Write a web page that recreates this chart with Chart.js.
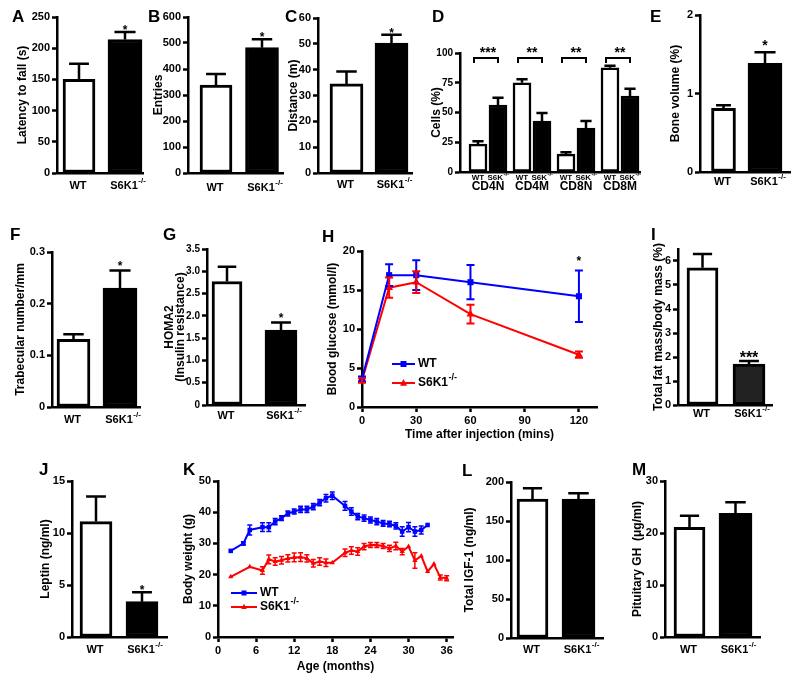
<!DOCTYPE html>
<html>
<head>
<meta charset="utf-8">
<script src="https://cdn.jsdelivr.net/npm/chart.js@4.4.1/dist/chart.umd.min.js"></script>
<style>
html, body { margin: 0; padding: 0; background: #fff; }
#fig { position: relative; width: 800px; height: 681px; overflow: hidden; }
#fig canvas { position: absolute; }
.lt { position: absolute; font: bold 17px/17px "Liberation Sans", Arial, sans-serif; color: #000; }
</style>
</head>
<body>
<div id="fig"></div>
<script>
const FONT = '"Liberation Sans", Arial, sans-serif';
const BLUE = '#0000ff';
const RED = '#ff0000';

// ---- data ----
const genotypes = ['WT', 'S6K1'];          // knockout gets a -/- superscript

const latencyMean = [150, 214], latencyErr = [25, 12], latencySig = ['', '*'];
const entriesMean = [338, 482], entriesErr = [43, 32], entriesSig = ['', '*'];
const distanceMean = [34.5, 50.3], distanceErr = [4.8, 3.2], distanceSig = ['', '*'];

const cellGroups = ['CD4N', 'CD4M', 'CD8N', 'CD8M'];
const cellsWT = [23.4, 75, 15, 87.6], cellsWTErr = [2.5, 3, 1.7, 1.7];
const cellsKO = [56.3, 42.8, 36.9, 63.9], cellsKOErr = [6, 6.7, 6, 6];
const cellSig = ['***', '**', '**', '**'];

const boneMean = [0.81, 1.385], boneErr = [0.04, 0.14], boneSig = ['', '*'];
const trabMean = [0.131, 0.23], trabErr = [0.01, 0.034], trabSig = ['', '*'];
const homaMean = [2.77, 1.68], homaErr = [0.33, 0.17], homaSig = ['', '*'];

const gttTime = [0, 15, 30, 60, 120];
const gttWT = [3.6, 16.9, 16.9, 16.0, 14.2], gttWTErr = [0.3, 1.4, 1.9, 2.2, 3.3];
const gttKO = [3.4, 15.3, 16.0, 11.9, 6.7], gttKOErr = [0.3, 1.3, 1.4, 1.2, 0.4];
const gttSig = ['', '', '', '', '*'];

const fatMean = [5.72, 1.71], fatErr = [0.57, 0.12], fatSig = ['', '***'];
const leptinMean = [11.1, 3.4], leptinErr = [2.4, 0.9], leptinSig = ['', '*'];

const ageWT = [2, 4, 5, 7, 8, 9, 10, 11, 12, 13, 14, 15, 16, 17, 18, 20, 21, 22, 23, 24, 25, 26, 27, 28, 29, 30, 31, 32, 33];
const weightWT = [27.6, 30, 34.3, 35.2, 35.2, 37, 38.1, 39.6, 40.2, 40.9, 40.9, 41.8, 43.1, 44.5, 45.3, 42, 40.2, 38.6, 38.1, 37.5, 37, 36.4, 36.2, 35.6, 33.8, 35.2, 33.8, 34.3, 35.9];
const weightWTErr = [0, 0.5, 1.6, 1.4, 1.4, 1.0, 0.8, 0.8, 0.8, 1.0, 1.0, 1.0, 1.0, 1.2, 1.2, 1.4, 1.2, 1.0, 1.0, 1.0, 1.0, 0.9, 0.9, 1.0, 1.5, 1.5, 1.5, 1.3, 0];
const ageKO = [2, 5, 7, 8, 9, 10, 11, 12, 13, 14, 15, 16, 17, 18, 20, 21, 22, 23, 24, 25, 26, 27, 28, 29, 30, 31, 32, 33, 34, 35, 36];
const weightKO = [19.3, 22.5, 21.3, 24.9, 24.2, 24.6, 25.2, 25.5, 25.6, 25.2, 23.6, 24.2, 23.8, 23.8, 27, 27.7, 27.4, 29, 29.5, 29.5, 29.2, 28.4, 29.2, 27.4, 29, 24.5, 26, 21, 23.4, 19.1, 18.8];
const weightKOErr = [0, 0, 1.2, 1.4, 1.2, 1.2, 1.2, 1.4, 1.4, 1.2, 1.2, 1.2, 1.2, 0, 1.2, 1.2, 1.2, 1.0, 0.8, 0.8, 0.8, 1.0, 1.2, 1.0, 0, 2.5, 0, 0, 0, 0.8, 0.8];

const igfMean = [178, 178], igfErr = [14, 7.5], igfSig = ['', ''];
const ghMean = [21.1, 23.8], ghErr = [2.2, 2.1], ghSig = ['', ''];

// ---- drawing helpers ----
Chart.defaults.animation = false;
Chart.defaults.font.family = FONT;
Chart.defaults.color = '#000';

const fig = document.getElementById('fig');
const AXW = 2.5;
const tickFont = { family: FONT, size: 11, weight: 'bold' };
const smallTickFont = { family: FONT, size: 10, weight: 'bold' };
const titleFont = { family: FONT, size: 12, weight: 'bold', lineHeight: 1.2 };

function fmt(v, dec) {
    return v === 0 ? '0' : v.toFixed(dec);
}

function drawLabel(ctx, text, sup, x, y, size, mode) {
    ctx.save();
    ctx.fillStyle = '#000';
    ctx.textBaseline = 'middle';
    ctx.textAlign = 'left';
    const supSize = Math.round(size * 0.75);
    ctx.font = `bold ${size}px ${FONT}`;
    const w = ctx.measureText(text).width;
    let ws = 0;
    if (sup) {
        ctx.font = `bold ${supSize}px ${FONT}`;
        ws = ctx.measureText(sup).width;
    }
    let x0 = x - w / 2 - 1;
    if (mode === 'whole') x0 = x - (w + ws) / 2;
    if (mode === 'left') x0 = x;
    ctx.font = `bold ${size}px ${FONT}`;
    ctx.fillText(text, x0, y);
    if (sup) {
        ctx.font = `bold ${supSize}px ${FONT}`;
        ctx.fillText(sup, x0 + w + 0.5, y - size * 0.45);
    }
    ctx.restore();
}

function marker(ctx, style, x, y, r, color) {
    ctx.fillStyle = color;
    ctx.beginPath();
    if (style === 'rect') {
        ctx.rect(x - r, y - r, 2 * r, 2 * r);
    } else {
        ctx.moveTo(x, y - r * 1.15);
        ctx.lineTo(x + r, y + r * 0.75);
        ctx.lineTo(x - r, y + r * 0.75);
        ctx.closePath();
    }
    ctx.fill();
}

// error bars, stars, category labels, brackets, legends
const deco = {
    id: 'deco',
    afterDatasetsDraw(chart, args, o) {
        const ctx = chart.ctx;
        const xs = chart.scales.x, ys = chart.scales.y, area = chart.chartArea;

        chart.data.datasets.forEach((ds, di) => {
            const meta = chart.getDatasetMeta(di);
            meta.data.forEach((el, i) => {
                const v = ds.data[i].y;
                const e = ds.errors ? ds.errors[i] : 0;
                let capY = el.y;
                if (e) {
                    capY = ys.getPixelForValue(v + e);
                    const lowY = ds.twoSided ? ys.getPixelForValue(v - e) : el.y;
                    const cw = ds.capWidth || el.width * 0.62;
                    ctx.save();
                    ctx.strokeStyle = ds.errorColor || '#000';
                    ctx.lineWidth = ds.errorWidth || 2.5;
                    ctx.beginPath();
                    ctx.moveTo(el.x, lowY);
                    ctx.lineTo(el.x, capY);
                    ctx.moveTo(el.x - cw / 2, capY);
                    ctx.lineTo(el.x + cw / 2, capY);
                    if (ds.twoSided) {
                        ctx.moveTo(el.x - cw / 2, lowY);
                        ctx.lineTo(el.x + cw / 2, lowY);
                    }
                    ctx.stroke();
                    ctx.restore();
                }
                const s = ds.stars && ds.stars[i];
                if (s) {
                    ctx.save();
                    ctx.fillStyle = '#000';
                    ctx.font = `bold ${ds.starSize || 12}px ${FONT}`;
                    ctx.textAlign = 'center';
                    ctx.textBaseline = 'alphabetic';
                    ctx.fillText(s, el.x, capY - (ds.starGap ?? -2));
                    ctx.restore();
                }
            });
        });

        (o.labels || []).forEach(lb => {
            drawLabel(ctx, lb.text, lb.sup, xs.getPixelForValue(lb.x), area.bottom + lb.dy, lb.size, lb.mode);
        });

        (o.brackets || []).forEach(bk => {
            const xc = xs.getPixelForValue(bk.x);
            const y = Math.round(ys.getPixelForValue(bk.y));
            ctx.save();
            ctx.strokeStyle = '#000';
            ctx.lineWidth = 2;
            ctx.beginPath();
            ctx.moveTo(xc + bk.dx1, y + 5);
            ctx.lineTo(xc + bk.dx1, y);
            ctx.lineTo(xc + bk.dx2, y);
            ctx.lineTo(xc + bk.dx2, y + 5);
            ctx.stroke();
            ctx.fillStyle = '#000';
            ctx.font = `bold ${bk.size}px ${FONT}`;
            ctx.textAlign = 'center';
            ctx.textBaseline = 'alphabetic';
            ctx.fillText(bk.text, xc, y - 1);
            ctx.restore();
        });

        (o.legend || []).forEach(lg => {
            const x = area.left + lg.dx, y = area.top + lg.dy;
            ctx.save();
            ctx.strokeStyle = lg.color;
            ctx.lineWidth = 2;
            ctx.beginPath();
            ctx.moveTo(x, y);
            ctx.lineTo(x + lg.len, y);
            ctx.stroke();
            marker(ctx, lg.style, x + lg.len / 2, y, lg.r, lg.color);
            ctx.restore();
            drawLabel(ctx, lg.text, lg.sup, x + lg.len + 3, y, 12, 'left');
        });
    }
};
Chart.register(deco);

function yAxis(p) {
    return {
        type: 'linear',
        min: 0,
        max: p.ymax,
        ticks: {
            stepSize: p.step, autoSkip: false, includeBounds: false,
            color: '#000', font: p.tickFont || tickFont, padding: 2,
            callback: v => fmt(v, p.dec || 0),
        },
        grid: { drawOnChartArea: false, drawTicks: true, tickLength: 5, tickWidth: AXW, tickColor: '#000' },
        border: { display: true, color: '#000', width: AXW },
        title: { display: true, text: p.title, color: '#000', font: p.titleFont || titleFont, padding: 0 },
        afterFit: s => { s.width = p.l - p.cl; },
    };
}

function xAxis(min, max, step, title, xh) {
    return {
        type: 'linear',
        min: min,
        max: max,
        offset: false,
        ticks: {
            display: !!step, stepSize: step, includeBounds: false, autoSkip: false,
            maxRotation: 0, color: '#000', font: tickFont, padding: 2,
        },
        grid: { display: !!step, offset: false, drawOnChartArea: false, drawTicks: true, tickLength: 5, tickWidth: AXW, tickColor: '#000' },
        border: { display: true, color: '#000', width: AXW },
        title: { display: !!title, text: title, color: '#000', font: titleFont, padding: 0 },
        afterFit: s => { s.height = xh; },
    };
}

function makeChart(p, config) {
    const padTop = p.padTop ?? 22, padRight = p.padRight ?? 18;
    const ct = p.t - padTop;
    const c = document.createElement('canvas');
    c.width = p.r + padRight - p.cl;
    c.height = p.b + p.xh - ct;
    c.style.left = p.cl + 'px';
    c.style.top = ct + 'px';
    fig.appendChild(c);
    config.options.responsive = false;
    config.options.events = [];
    config.options.layout = { padding: { top: padTop, right: padRight, bottom: 0, left: 0 } };
    config.options.plugins.legend = { display: false };
    config.options.plugins.tooltip = { enabled: false };
    return new Chart(c, config);
}

function barPanel(p) {
    p.xh = p.xh || 30;
    const unit = p.c2 - p.c1;
    const xmin = 1 - (p.c1 - p.l) / unit;
    const xmax = 2 + (p.r - p.c2) / unit;
    const fills = ['#ffffff', p.koFill || '#000000'];
    const datasets = p.mean.map((m, i) => ({
        type: 'bar',
        data: [{ x: i + 1, y: m }],
        backgroundColor: fills[i],
        borderColor: '#000',
        borderWidth: 3,
        borderSkipped: false,
        barThickness: p.widths[i],
        grouped: false,
        errors: [p.err[i]],
        stars: [p.stars[i]],
        starSize: p.starSize || 12,
        starGap: p.starGap ?? -2,
    }));
    const labels = genotypes.map((g, i) => ({
        x: i + 1, text: g, sup: i ? '-/-' : '', dy: p.labelDy, size: 11,
    }));
    return makeChart(p, {
        type: 'bar',
        data: { datasets },
        options: {
            scales: { x: xAxis(xmin, xmax, 0, '', p.xh), y: yAxis(p) },
            plugins: { deco: { labels } },
        },
    });
}

// ---- row 1 ----
barPanel({ cl: 15, l: 57, t: 17, r: 143, b: 173, c1: 79, c2: 125, widths: [32, 34],
    ymax: 250, step: 50, title: 'Latency to fall (s)',
    mean: latencyMean, err: latencyErr, stars: latencySig, labelDy: 13 });

barPanel({ cl: 151, l: 188, t: 17, r: 283, b: 173, c1: 216, c2: 262, widths: [32, 33],
    ymax: 600, step: 100, title: 'Entries',
    mean: entriesMean, err: entriesErr, stars: entriesSig, labelDy: 15 });

barPanel({ cl: 286, l: 318, t: 18, r: 412, b: 173, c1: 346.5, c2: 391.5, widths: [33, 33],
    ymax: 60, step: 10, title: 'Distance (m)',
    mean: distanceMean, err: distanceErr, stars: distanceSig, labelDy: 12 });

(function cellsPanel() {
    const p = { cl: 429, l: 460, t: 53, r: 640, b: 172, xh: 30, ymax: 100, step: 25,
        title: 'Cells (%)', tickFont: smallTickFont };
    const g1 = 488, unit = 44, off = 10 / 44;
    const xmin = 1 - (g1 - p.l) / unit;
    const xmax = cellGroups.length + (p.r - (g1 + unit * (cellGroups.length - 1))) / unit;
    const bar = {
        type: 'bar', borderColor: '#000', borderWidth: 2.5, borderSkipped: false,
        barThickness: 18, grouped: false,
    };
    const datasets = [
        Object.assign({}, bar, {
            data: cellsWT.map((v, i) => ({ x: i + 1 - off, y: v })),
            backgroundColor: '#ffffff', errors: cellsWTErr,
        }),
        Object.assign({}, bar, {
            data: cellsKO.map((v, i) => ({ x: i + 1 + off, y: v })),
            backgroundColor: '#000000', errors: cellsKOErr,
        }),
    ];
    const labels = [];
    cellGroups.forEach((g, i) => {
        labels.push({ x: i + 1 - off, text: 'WT', sup: '', dy: 6, size: 8, mode: 'whole' });
        labels.push({ x: i + 1 + off, text: 'S6K', sup: '-/-', dy: 6, size: 8, mode: 'whole' });
        labels.push({ x: i + 1, text: g, sup: '', dy: 15, size: 12, mode: 'whole' });
    });
    const brackets = cellSig.map((s, i) => ({ x: i + 1, y: 96, dx1: -14, dx2: 10, text: s, size: 14 }));
    makeChart(p, {
        type: 'bar',
        data: { datasets },
        options: {
            scales: { x: xAxis(xmin, xmax, 0, '', p.xh), y: yAxis(p) },
            plugins: { deco: { labels, brackets } },
        },
    });
})();

barPanel({ cl: 668, l: 700, t: 15, r: 790, b: 172, c1: 723.5, c2: 765, widths: [24, 34],
    ymax: 2, step: 1, title: 'Bone volume (%)',
    mean: boneMean, err: boneErr, stars: boneSig, labelDy: 10, starSize: 14, starGap: 2 });

// ---- row 2 ----
barPanel({ cl: 13, l: 52, t: 252, r: 140, b: 407, c1: 73.5, c2: 120, widths: [33, 34],
    ymax: 0.3, step: 0.1, dec: 1, title: 'Trabecular number/mm',
    mean: trabMean, err: trabErr, stars: trabSig, labelDy: 13, starGap: 1 });

barPanel({ cl: 164, l: 207, t: 249, r: 305, b: 405, c1: 227, c2: 281, widths: [30, 32],
    ymax: 3.5, step: 0.5, dec: 1, title: ['HOMA2', '(Insulin resistance)'], tickFont: smallTickFont,
    titleFont: { family: FONT, size: 12, weight: 'bold', lineHeight: 0.95 },
    mean: homaMean, err: homaErr, stars: homaSig, labelDy: 11, starGap: 1 });

(function gttPanel() {
    const p = { cl: 325, l: 362, t: 251, r: 597, b: 407, xh: 35, padTop: 12, padRight: 14,
        ymax: 20, step: 5, title: 'Blood glucose (mmol/l)' };
    const line = { type: 'line', borderWidth: 2, pointBorderWidth: 0, tension: 0, clip: false,
        twoSided: true, capWidth: 8, errorWidth: 2 };
    const datasets = [
        Object.assign({}, line, {
            data: gttTime.map((t, i) => ({ x: t, y: gttWT[i] })),
            borderColor: BLUE, backgroundColor: BLUE, pointStyle: 'rect', pointRadius: 4.3,
            errors: gttWTErr, errorColor: BLUE, stars: gttSig, starGap: 6,
        }),
        Object.assign({}, line, {
            data: gttTime.map((t, i) => ({ x: t, y: gttKO[i] })),
            borderColor: RED, backgroundColor: RED, pointStyle: 'triangle', pointRadius: 4.5,
            errors: gttKOErr, errorColor: RED,
        }),
    ];
    const legend = [
        { dx: 30, dy: 113, len: 23, color: BLUE, style: 'rect', r: 3, text: 'WT', sup: '' },
        { dx: 30, dy: 132, len: 23, color: RED, style: 'tri', r: 3.5, text: 'S6K1', sup: '-/-' },
    ];
    makeChart(p, {
        type: 'line',
        data: { datasets },
        options: {
            scales: { x: xAxis(0, 130, 30, 'Time after injection (mins)', p.xh), y: yAxis(p) },
            plugins: { deco: { legend } },
        },
    });
})();

barPanel({ cl: 651, l: 678, t: 249, r: 772, b: 405, c1: 702.5, c2: 749, widths: [31, 32],
    ymax: 6.5, step: 1, title: 'Total fat mass/body mass (%)', koFill: '#222222',
    mean: fatMean, err: fatErr, stars: fatSig, labelDy: 9, starSize: 16 });

// ---- row 3 ----
barPanel({ cl: 38, l: 72, t: 481, r: 167, b: 637, c1: 96, c2: 142, widths: [32, 32],
    ymax: 15, step: 5, title: 'Leptin (ng/ml)',
    mean: leptinMean, err: leptinErr, stars: leptinSig, labelDy: 13 });

(function weightPanel() {
    const p = { cl: 181, l: 218, t: 481, r: 453, b: 637, xh: 37, padTop: 12, padRight: 14,
        ymax: 50, step: 10, title: 'Body weight (g)' };
    const line = { type: 'line', borderWidth: 2, pointBorderWidth: 0, tension: 0, clip: false,
        twoSided: true, capWidth: 5, errorWidth: 1.5 };
    const datasets = [
        Object.assign({}, line, {
            data: ageWT.map((a, i) => ({ x: a, y: weightWT[i] })),
            borderColor: BLUE, backgroundColor: BLUE, pointStyle: 'rect', pointRadius: 3.2,
            errors: weightWTErr, errorColor: BLUE,
        }),
        Object.assign({}, line, {
            data: ageKO.map((a, i) => ({ x: a, y: weightKO[i] })),
            borderColor: RED, backgroundColor: RED, pointStyle: 'triangle', pointRadius: 3,
            errors: weightKOErr, errorColor: RED,
        }),
    ];
    const legend = [
        { dx: 13, dy: 112, len: 26, color: BLUE, style: 'rect', r: 2.5, text: 'WT', sup: '' },
        { dx: 13, dy: 126, len: 26, color: RED, style: 'tri', r: 2.8, text: 'S6K1', sup: '-/-' },
    ];
    makeChart(p, {
        type: 'line',
        data: { datasets },
        options: {
            scales: { x: xAxis(0, 37, 6, 'Age (months)', p.xh), y: yAxis(p) },
            plugins: { deco: { legend } },
        },
    });
})();

barPanel({ cl: 462, l: 511, t: 482, r: 603, b: 638, c1: 532.5, c2: 578.5, widths: [31, 33],
    ymax: 200, step: 50, title: 'Total IGF-1 (ng/ml)',
    mean: igfMean, err: igfErr, stars: igfSig, labelDy: 12 });

barPanel({ cl: 630, l: 665, t: 481, r: 760, b: 637, c1: 689.5, c2: 735.5, widths: [31, 33],
    ymax: 30, step: 10, title: 'Pituitary GH  (\u03bcg/ml)',
    mean: ghMean, err: ghErr, stars: ghSig, labelDy: 13 });

// panel letters
[['A', 12, 22], ['B', 148, 22], ['C', 285, 22], ['D', 432, 22], ['E', 650, 22],
 ['F', 10, 240], ['G', 163, 240], ['H', 322, 242], ['I', 651, 240],
 ['J', 39, 475], ['K', 183, 475], ['L', 462, 476], ['M', 632, 475]].forEach(([t, x, y]) => {
    const d = document.createElement('div');
    d.className = 'lt';
    d.textContent = t;
    d.style.left = x + 'px';
    d.style.top = (y - 14.4) + 'px';
    fig.appendChild(d);
});
</script>
</body>
</html>
